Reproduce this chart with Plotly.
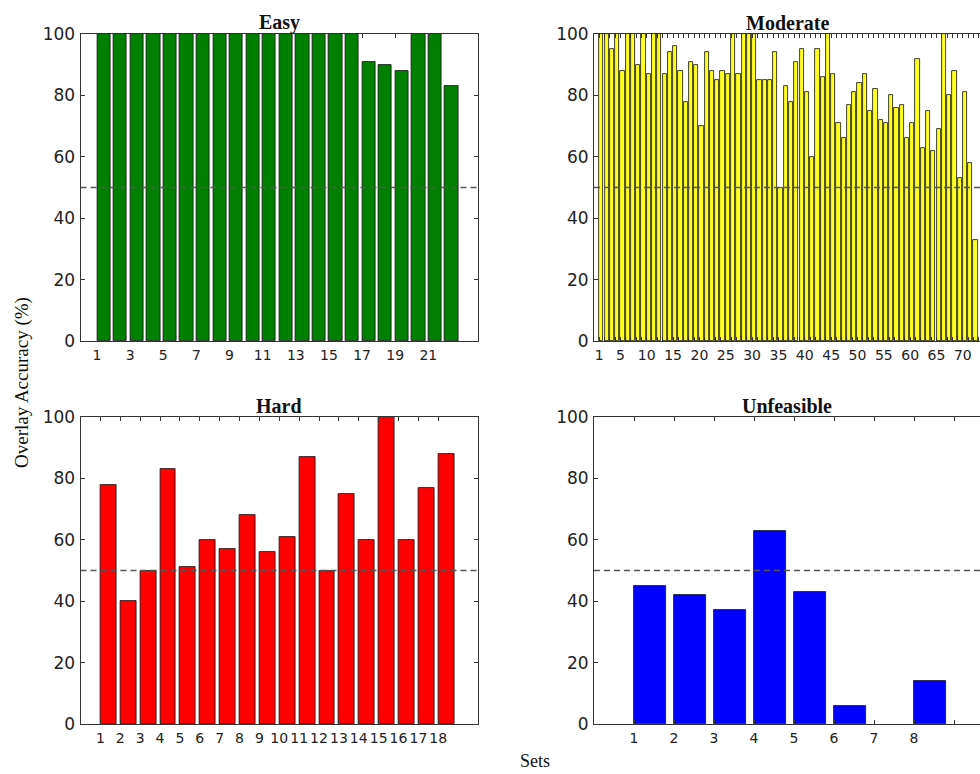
import plotly.graph_objects as go

# Overlay accuracy (%) per set, grouped by difficulty
easy_sets = list(range(1, 23))
easy_acc = [100, 100, 100, 100, 100, 100, 100, 100, 100, 100, 100,
            100, 100, 100, 100, 100, 91, 90, 88, 100, 100, 83]

moderate_sets = list(range(1, 73))
moderate_acc = [100, 100, 95, 100, 88, 100, 100, 90, 100, 87,
                100, 100, 87, 94, 96, 88, 78, 91, 90, 70,
                94, 88, 85, 88, 87, 100, 87, 100, 100, 100,
                85, 85, 85, 94, 50, 83, 78, 91, 95, 81,
                60, 95, 86, 100, 87, 71, 66, 77, 81, 84,
                87, 75, 82, 72, 71, 80, 76, 77, 66, 71,
                92, 63, 75, 62, 69, 100, 80, 88, 53, 81,
                58, 33]

hard_sets = list(range(1, 19))
hard_acc = [78, 40, 50, 83, 51, 60, 57, 68, 56, 61, 87, 50, 75, 60, 100, 60, 77, 88]

unfeasible_sets = list(range(1, 9))
unfeasible_acc = [45, 42, 37, 63, 43, 6, 0, 14]

chance_level = 50
y_ticks = [0, 20, 40, 60, 80, 100]

easy_ticks = list(range(1, 23, 2))
moderate_ticks = list(range(1, 74))
moderate_labels = [str(v) if (v == 1 or v % 5 == 0) else "" for v in moderate_ticks]
hard_ticks = list(range(1, 19))
unfeasible_ticks = list(range(1, 10))
unfeasible_labels = [str(v) if v <= 8 else "" for v in unfeasible_ticks]

W, H = 980, 774


def px_x(a, b):
    return [a / W, b / W]


def px_y(top, bottom):
    return [1 - bottom / H, 1 - top / H]


panels = [
    # name, sets, values, colour, x-domain, y-domain, x-range, tickvals, ticktext, right spine
    ("Easy", easy_sets, easy_acc, "#008000", px_x(80.5, 478), px_y(34, 341), [0, 24],
     easy_ticks, [str(v) for v in easy_ticks], True),
    ("Moderate", moderate_sets, moderate_acc, "#ffff22", px_x(594, 980), px_y(34, 341), [0, 73.25],
     moderate_ticks, moderate_labels, False),
    ("Hard", hard_sets, hard_acc, "#ff0000", px_x(80.5, 478), px_y(417, 724), [0, 20],
     hard_ticks, [str(v) for v in hard_ticks], True),
    ("Unfeasible", unfeasible_sets, unfeasible_acc, "#0000ff", px_x(594, 980), px_y(417, 724), [0, 9.65],
     unfeasible_ticks, unfeasible_labels, False),
]

fig = go.Figure()
layout = dict(
    width=W, height=H,
    margin=dict(l=0, r=0, t=0, b=0, autoexpand=False),
    paper_bgcolor="white", plot_bgcolor="white",
    showlegend=False, bargap=0,
    annotations=[], shapes=[],
)

tick_font = dict(family="DejaVu Sans", color="#222222")
axis_common = dict(showline=True, linecolor="#333333", linewidth=1, showgrid=False,
                   zeroline=False, ticks="inside", tickcolor="#333333", ticklen=4, tickwidth=1,
                   automargin=False)

for i, (name, sets, vals, colour, xd, yd, xr, tv, tt, right_spine) in enumerate(panels, start=1):
    xa = "x" if i == 1 else f"x{i}"
    ya = "y" if i == 1 else f"y{i}"
    # empty sets (0 %) get no outline
    edge_w = [0.8 if v > 0 else 0 for v in vals]
    fig.add_trace(go.Bar(
        x=sets, y=vals, width=0.8, offset=0,
        marker=dict(color=colour, line=dict(color="#111111", width=edge_w)),
        xaxis=xa, yaxis=ya, hoverinfo="x+y",
    ))
    layout["xaxis" if i == 1 else f"xaxis{i}"] = dict(
        axis_common, domain=xd, range=xr, anchor=ya, mirror="ticks",
        tickmode="array", tickvals=tv, ticktext=tt,
        tickfont=dict(tick_font, size=14), ticklabelstandoff=1,
    )
    layout["yaxis" if i == 1 else f"yaxis{i}"] = dict(
        axis_common, domain=yd, range=[0, 100], anchor=xa,
        mirror="ticks" if right_spine else False,
        tickmode="array", tickvals=y_ticks,
        tickfont=dict(tick_font, size=17), ticklabelstandoff=1,
    )
    # chance-level reference line
    layout["shapes"].append(dict(
        type="line", xref=f"{xa} domain", yref=ya, x0=0, x1=1, y0=chance_level, y1=chance_level,
        line=dict(color="#555555", width=1.3, dash="6px,4px"), layer="above",
    ))
    layout["annotations"].append(dict(
        text=f"<b>{name}</b>", xref=f"{xa} domain", yref=f"{ya} domain", x=0.5, y=1,
        xanchor="center", yanchor="bottom", yshift=-2, showarrow=False,
        font=dict(family="Liberation Serif", size=20, color="#111111"),
    ))

layout["annotations"].append(dict(
    text="Overlay Accuracy (%)", xref="paper", yref="paper", x=22 / W, y=1 - 383 / H,
    xanchor="center", yanchor="middle", textangle=-90, showarrow=False,
    font=dict(family="Liberation Serif", size=19, color="#111111"),
))
layout["annotations"].append(dict(
    text="Sets", xref="paper", yref="paper", x=535 / W, y=0,
    xanchor="center", yanchor="bottom", yshift=1, showarrow=False,
    font=dict(family="Liberation Serif", size=18, color="#111111"),
))

fig.update_layout(**layout)
fig.write_html("out.html")
